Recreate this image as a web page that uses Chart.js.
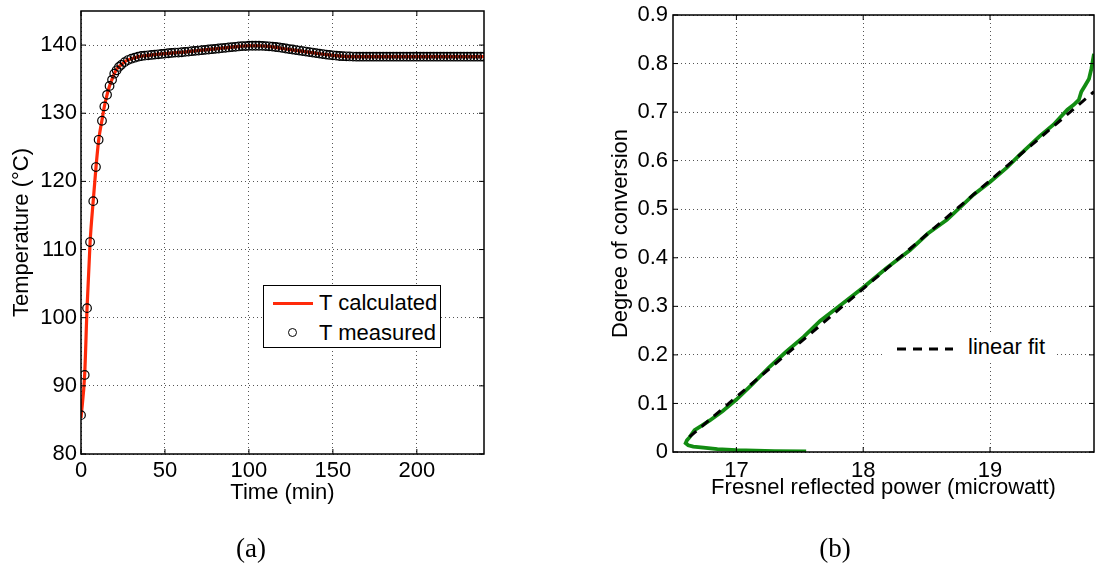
<!DOCTYPE html>
<html>
<head>
<meta charset="utf-8">
<script src="https://cdn.jsdelivr.net/npm/chart.js@4.4.1/dist/chart.umd.min.js"></script>
<style>
    body { margin: 0; background: #fff; width: 1095px; height: 566px; overflow: hidden; position: relative; font-family: "Liberation Sans", Arial, sans-serif; }
    canvas { position: absolute; left: 0; top: 0; }
    .legend { position: absolute; background: #fff; }
    .lbl { position: absolute; font-size: 22px; line-height: 26px; white-space: nowrap; color: #000; }
    .caption { position: absolute; font-family: "Liberation Serif", serif; font-size: 27px; color: #000; transform: translate(-50%, -50%); }
</style>
</head>
<body>
<canvas id="tempChart" width="1095" height="566"></canvas>
<canvas id="fresnelChart" width="1095" height="566"></canvas>

<div class="legend" style="left:263px; top:285px; width:176px; height:61px; border:1.5px solid #000;">
    <div style="position:absolute; left:9px; top:16px; width:40px; height:3px; background:#ff2a0a;"></div>
    <span class="lbl" style="left:55px; top:4px;">T calculated</span>
    <div style="position:absolute; left:24px; top:42px; width:9px; height:9px; border:1.2px solid #000; border-radius:50%; box-sizing:border-box;"></div>
    <span class="lbl" style="left:55px; top:34px;">T measured</span>
</div>

<div class="legend" style="left:882px; top:333px; width:175px; height:30px;">
    <svg style="position:absolute; left:15px; top:13px;" width="56" height="6">
        <line x1="0" y1="3" x2="56" y2="3" stroke="#000" stroke-width="3" stroke-dasharray="9 7"></line>
    </svg>
    <span class="lbl" style="left:86px; top:1px;">linear fit</span>
</div>

<div class="caption" style="left:251px; top:548px;">(a)</div>
<div class="caption" style="left:835px; top:548px;">(b)</div>

<script>
// (a) temperature vs time
const timeMeasured = [0, 2.2, 3.6, 5.4, 7.3, 8.9, 10.5, 12.5, 13.9, 15.5, 17, 18.5, 19.8, 21.2, 22.6, 24,
    26, 28, 30, 32, 34, 36, 38, 40, 42, 44, 46, 48,
    50, 52, 54, 56, 58, 60, 62, 64, 66, 68, 70, 72, 74, 76, 78, 80, 82, 84, 86, 88, 90, 92, 94, 96, 98,
    100, 102, 104, 106, 108, 110, 112, 114, 116, 118, 120, 122, 124, 126, 128, 130, 132, 134, 136, 138, 140, 142, 144, 146, 148,
    150, 152, 154, 156, 158, 160, 162, 164, 166, 168, 170, 172, 174, 176, 178, 180, 182, 184, 186, 188, 190, 192, 194, 196, 198,
    200, 202, 204, 206, 208, 210, 212, 214, 216, 218, 220, 222, 224, 226, 228, 230, 232, 234, 236, 238, 240];
const tempMeasured = [85.7, 91.6, 101.4, 111.1, 117.1, 122.1, 126.1, 128.9, 131.0, 132.7, 134.0, 134.9, 135.8, 136.3, 136.8, 137.1,
    137.5, 137.8, 138.0, 138.15, 138.3, 138.4, 138.45, 138.5, 138.55, 138.6, 138.65, 138.7,
    138.75, 138.8, 138.85, 138.9, 138.9, 138.95, 139.0, 139.05, 139.1, 139.15, 139.2, 139.25, 139.3, 139.35, 139.4, 139.45, 139.5, 139.55, 139.6, 139.65, 139.7, 139.75, 139.8, 139.85, 139.85,
    139.9, 139.9, 139.9, 139.9, 139.88, 139.85, 139.82, 139.78, 139.72, 139.65, 139.58, 139.5, 139.42, 139.35, 139.27, 139.2, 139.12, 139.05, 138.97, 138.9, 138.82, 138.75, 138.68, 138.6, 138.55,
    138.5, 138.45, 138.4, 138.37, 138.35, 138.33, 138.32, 138.3, 138.3, 138.3, 138.3, 138.3, 138.3, 138.3, 138.3, 138.3, 138.3, 138.3, 138.3, 138.3, 138.3, 138.3, 138.3, 138.3, 138.3,
    138.3, 138.3, 138.3, 138.3, 138.3, 138.3, 138.3, 138.3, 138.3, 138.3, 138.3, 138.3, 138.3, 138.3, 138.3, 138.3, 138.3, 138.3, 138.3, 138.3, 138.3];
const timeCalc = [0, 2.2, 3.6, 5.4, 7.3, 8.9, 10.5, 12.5, 14, 15.5, 17, 18.5, 20, 22, 24, 27, 30, 35, 40, 50,
    60, 70, 80, 90, 100, 106, 112, 120, 130, 140, 150, 160, 180, 200, 220, 240];
const tempCalc = [85.3, 91.7, 101.4, 111.0, 117.2, 122.0, 126.0, 129.0, 131.1, 132.7, 134.0, 135.0, 135.9, 136.7, 137.1, 137.7, 138.0, 138.35, 138.5, 138.75,
    138.95, 139.2, 139.45, 139.7, 139.9, 139.9, 139.8, 139.5, 139.15, 138.8, 138.5, 138.3, 138.3, 138.3, 138.3, 138.3];
const timeTicks = [0, 50, 100, 150, 200];
const tempTicks = [80, 90, 100, 110, 120, 130, 140];

// (b) degree of conversion vs Fresnel power
const powerMeasured = [17.55, 17.3, 17.0, 16.85, 16.74, 16.66, 16.62, 16.60, 16.61, 16.63,
    16.67, 16.73, 16.79, 16.89, 17.0, 17.13, 17.26, 17.39, 17.53, 17.66,
    17.80, 18.0, 18.18, 18.37, 18.51, 18.66, 18.87, 19.0, 19.13, 19.23,
    19.39, 19.50, 19.61, 19.66, 19.70, 19.72, 19.75, 19.78, 19.80, 19.81, 19.82];
const conversionMeasured = [0.001, 0.002, 0.004, 0.006, 0.009, 0.011, 0.014, 0.018, 0.024, 0.03,
    0.045, 0.055, 0.065, 0.084, 0.108, 0.141, 0.175, 0.206, 0.237, 0.27,
    0.298, 0.339, 0.378, 0.416, 0.45, 0.478, 0.53, 0.556, 0.585, 0.611,
    0.65, 0.674, 0.705, 0.715, 0.725, 0.742, 0.755, 0.768, 0.79, 0.805, 0.82];
const powerFit = [16.63, 19.82];
const conversionFit = [0.031, 0.742];
const powerTicks = [17, 18, 19];
const conversionTicks = [0, 0.1, 0.2, 0.3, 0.4, 0.5, 0.6, 0.7, 0.8, 0.9];

const FONT = { family: '"Liberation Sans", Arial, sans-serif', size: 22 };

const zip = (xs, ys) => xs.map((x, i) => ({ x, y: ys[i] }));

function axis(cfg) {
    return {
        type: 'linear',
        min: cfg.min,
        max: cfg.max,
        afterBuildTicks: s => { s.ticks = cfg.ticks.map(v => ({ value: v })); },
        afterFit: s => {
            if (s.isHorizontal()) s.height = cfg.size; else s.width = cfg.size;
            s.paddingTop = s.paddingBottom = s.paddingLeft = s.paddingRight = 0;
        },
        grid: { color: '#555', lineWidth: 1, drawTicks: false },
        border: { display: false, dash: [1, 3] },
        ticks: { padding: cfg.pad, font: FONT, color: '#000', autoSkip: false, maxRotation: 0, callback: v => String(v) },
        title: { display: true, text: cfg.title, font: FONT, color: '#000', padding: { top: cfg.titlePad, bottom: 0 } }
    };
}

// axes box with inward tick marks
const boxPlugin = {
    id: 'box',
    afterDraw(chart) {
        const { ctx, chartArea: a, scales: { x, y } } = chart;
        const seg = (x1, y1, x2, y2) => { ctx.beginPath(); ctx.moveTo(x1, y1); ctx.lineTo(x2, y2); ctx.stroke(); };
        ctx.save();
        ctx.strokeStyle = '#000';
        ctx.lineWidth = 1.5;
        ctx.strokeRect(a.left, a.top, a.right - a.left, a.bottom - a.top);
        ctx.lineWidth = 1;
        x.ticks.forEach(t => {
            const px = x.getPixelForValue(t.value);
            seg(px, a.bottom, px, a.bottom - 5);
            seg(px, a.top, px, a.top + 5);
        });
        y.ticks.forEach(t => {
            const py = y.getPixelForValue(t.value);
            seg(a.left, py, a.left + 5, py);
            seg(a.right, py, a.right - 5, py);
        });
        ctx.restore();
    }
};

const common = {
    responsive: false,
    animation: false,
    events: [],
    plugins: { legend: { display: false }, tooltip: { enabled: false } }
};

new Chart(document.getElementById('tempChart'), {
    type: 'scatter',
    data: {
        datasets: [
            {
                data: zip(timeMeasured, tempMeasured),
                showLine: false,
                pointRadius: 4.3,
                pointBorderWidth: 1.2,
                pointBorderColor: '#000',
                pointBackgroundColor: 'rgba(0,0,0,0)'
            },
            {
                data: zip(timeCalc, tempCalc),
                showLine: true,
                borderColor: '#ff2a0a',
                borderWidth: 3.2,
                pointRadius: 0,
                cubicInterpolationMode: 'monotone'
            }
        ]
    },
    options: {
        ...common,
        layout: { padding: { left: 0, top: 11, right: 611, bottom: 60 } },
        scales: {
            x: axis({ min: 0, max: 240, ticks: timeTicks, size: 52, pad: 4, title: 'Time (min)', titlePad: 0 }),
            y: axis({ min: 80, max: 145, ticks: tempTicks, size: 81, pad: 4, title: 'Temperature (°C)', titlePad: 9 })
        }
    },
    plugins: [boxPlugin]
});

new Chart(document.getElementById('fresnelChart'), {
    type: 'scatter',
    data: {
        datasets: [
            {
                data: zip(powerFit, conversionFit),
                showLine: true,
                borderColor: '#000',
                borderWidth: 3,
                borderDash: [9, 7],
                pointRadius: 0
            },
            {
                data: zip(powerMeasured, conversionMeasured),
                showLine: true,
                borderColor: 'rgb(18,140,18)',
                borderWidth: 3.8,
                pointRadius: 0
            }
        ]
    },
    options: {
        ...common,
        layout: { padding: { left: 600, top: 15, right: 1, bottom: 65 } },
        scales: {
            x: axis({ min: 16.5, max: 19.82, ticks: powerTicks, size: 49, pad: 6, title: 'Fresnel reflected power (microwatt)', titlePad: 0 }),
            y: axis({ min: 0, max: 0.9, ticks: conversionTicks, size: 73, pad: 5, title: 'Degree of conversion', titlePad: 8 })
        }
    },
    plugins: [boxPlugin]
});
</script>
</body>
</html>
